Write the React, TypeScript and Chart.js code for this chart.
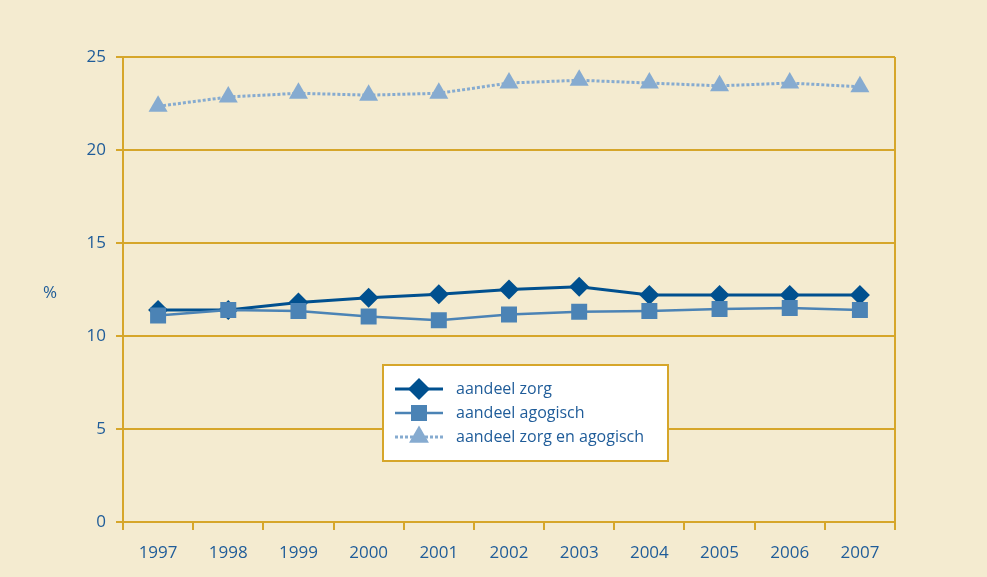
import React, { useEffect, useRef } from 'react';
import { Chart, registerables } from 'chart.js';

Chart.register(...registerables);

const years = ['1997', '1998', '1999', '2000', '2001', '2002', '2003', '2004', '2005', '2006', '2007'];
const zorg = [11.4, 11.4, 11.8, 12.05, 12.25, 12.5, 12.65, 12.2, 12.2, 12.2, 12.2];
const agogisch = [11.1, 11.4, 11.35, 11.05, 10.85, 11.15, 11.3, 11.35, 11.45, 11.5, 11.4];
const zorgAgogisch = [22.35, 22.85, 23.05, 22.95, 23.05, 23.6, 23.75, 23.6, 23.45, 23.6, 23.4];
const seriesNames = ['aandeel zorg', 'aandeel agogisch', 'aandeel zorg en agogisch'];
const yAxisTitle = '%';

const BG = '#f4ebd0';
const GOLD = '#d6a62a';
const TEXT = '#1f5c99';
const C_ZORG = '#00508f';
const C_AGO = '#4b83b5';
const C_BOTH = '#86abd0';
const FONT = "'Open Sans', 'Noto Sans', sans-serif";

function drawMarker(ctx: CanvasRenderingContext2D, style: string, x: number, y: number, r: number, color: string) {
  ctx.save();
  ctx.fillStyle = color;
  ctx.beginPath();
  if (style === 'rectRot') {
    ctx.moveTo(x - r, y);
    ctx.lineTo(x, y - r);
    ctx.lineTo(x + r, y);
    ctx.lineTo(x, y + r);
  } else if (style === 'rect') {
    const s = r * Math.SQRT1_2;
    ctx.rect(x - s, y - s, 2 * s, 2 * s);
  } else {
    ctx.moveTo(x, y - r);
    ctx.lineTo(x + r * 0.866, y + r / 2);
    ctx.lineTo(x - r * 0.866, y + r / 2);
  }
  ctx.closePath();
  ctx.fill();
  ctx.restore();
}

const decorPlugin = {
  id: 'decor',
  beforeDraw(chart: any) {
    const { ctx, width, height } = chart;
    ctx.save();
    ctx.fillStyle = BG;
    ctx.fillRect(0, 0, width, height);
    ctx.restore();
  },
  afterDatasetsDraw(chart: any) {
    const { ctx, chartArea } = chart;
    ctx.save();
    ctx.strokeStyle = GOLD;
    ctx.lineWidth = 2;
    ctx.beginPath();
    ctx.moveTo(chartArea.right, chartArea.top);
    ctx.lineTo(chartArea.right, chartArea.bottom + 8);
    ctx.stroke();
    ctx.fillStyle = TEXT;
    ctx.font = `17px ${FONT}`;
    ctx.textAlign = 'center';
    ctx.textBaseline = 'middle';
    ctx.fillText(yAxisTitle, 50, 293);

    const bx = 383, by = 365, bw = 285, bh = 96;
    ctx.fillStyle = '#ffffff';
    ctx.fillRect(bx, by, bw, bh);
    ctx.strokeStyle = GOLD;
    ctx.lineWidth = 2;
    ctx.strokeRect(bx, by, bw, bh);
    const items = chart.data.datasets;
    const rowY = [389, 413, 437];
    const sizes = [11, 11.3, 11.5];
    items.forEach((ds: any, i: number) => {
      const y = rowY[i];
      ctx.save();
      ctx.strokeStyle = ds.borderColor;
      ctx.lineWidth = ds.borderWidth;
      if (ds.borderDash) ctx.setLineDash(ds.borderDash);
      ctx.beginPath();
      ctx.moveTo(395, y);
      ctx.lineTo(443, y);
      ctx.stroke();
      ctx.restore();
      drawMarker(ctx, ds.pointStyle, 419, y, sizes[i], ds.backgroundColor);
      ctx.fillStyle = TEXT;
      ctx.font = `16px ${FONT}`;
      ctx.textAlign = 'left';
      ctx.textBaseline = 'middle';
      ctx.fillText(ds.label, 456, y);
    });
    ctx.restore();
  },
};

export default function App() {
  const ref = useRef<HTMLCanvasElement>(null);
  useEffect(() => {
    if (!ref.current) return;
    const chart = new Chart(ref.current, {
      type: 'line',
      data: {
        labels: years,
        datasets: [
          {
            label: seriesNames[0],
            data: zorg,
            borderColor: C_ZORG,
            backgroundColor: C_ZORG,
            borderWidth: 3,
            pointStyle: 'rectRot',
            pointRadius: 10,
            pointBorderWidth: 0,
            tension: 0,
            order: 2,
          },
          {
            label: seriesNames[1],
            data: agogisch,
            borderColor: C_AGO,
            backgroundColor: C_AGO,
            borderWidth: 2.5,
            pointStyle: 'rect',
            pointRadius: 11.3,
            pointBorderWidth: 0,
            tension: 0,
            order: 1,
          },
          {
            label: seriesNames[2],
            data: zorgAgogisch,
            borderColor: C_BOTH,
            backgroundColor: C_BOTH,
            borderWidth: 3,
            borderDash: [3, 2],
            pointStyle: 'triangle',
            pointRadius: 11,
            pointBorderWidth: 0,
            tension: 0,
            order: 3,
          },
        ] as any,
      },
      options: {
        animation: false,
        responsive: false,
        devicePixelRatio: 1,
        layout: { padding: { left: 0, top: 57, right: 92, bottom: 0 } },
        plugins: { legend: { display: false }, tooltip: { enabled: false } },
        scales: {
          x: {
            type: 'category',
            offset: true,
            afterFit: (s: any) => { s.height = 55; },
            grid: {
              offset: true,
              drawOnChartArea: false,
              drawTicks: true,
              tickLength: 8,
              color: GOLD,
              lineWidth: 2,
            },
            border: { display: true, color: GOLD, width: 2 },
            ticks: { color: TEXT, font: { size: 17, family: FONT }, padding: 13, maxRotation: 0, autoSkip: false },
          },
          y: {
            min: 0,
            max: 25,
            afterFit: (s: any) => { s.width = 123; },
            grid: { color: GOLD, lineWidth: 2, tickLength: 7, drawTicks: true },
            border: { display: true, color: GOLD, width: 2 },
            ticks: { stepSize: 5, color: TEXT, font: { size: 17, family: FONT }, padding: 10 },
          },
        },
      } as any,
      plugins: [decorPlugin],
    });
    return () => chart.destroy();
  }, []);
  return (
    <div style={{ position: 'absolute', left: 0, top: 0, width: 987, height: 577, background: BG }}>
      <canvas ref={ref} width={987} height={577} style={{ display: 'block' }} />
    </div>
  );
}
